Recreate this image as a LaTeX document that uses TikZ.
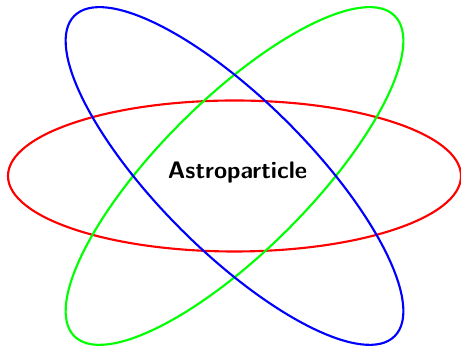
\documentclass[tikz,border=0pt]{standalone}
\usepackage{tikz}
\usetikzlibrary{positioning}

\begin{document}
\begin{tikzpicture}[
        orbit/.style={thick, x radius=3cm, y radius=1cm},
        core/.style={font=\small\sffamily\bfseries},
    ]
        \useasboundingbox (-3.106,-2.265) rectangle (3.0,2.331);
        % Orbits
        \draw[orbit, red] (0,0) ellipse [];
        \draw[orbit, green, rotate=45] (0,0) ellipse [];
        \draw[orbit, blue, rotate=-45] (0,0) ellipse [];
        
        % Label
        \node[core] (core) at (0.04,0.05) {Astroparticle};
    \end{tikzpicture}
\end{document}
